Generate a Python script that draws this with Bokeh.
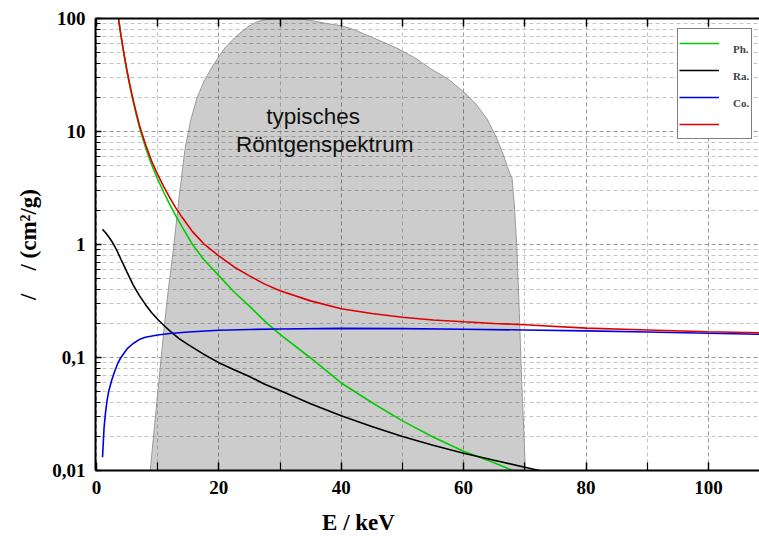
from bokeh.plotting import figure
from bokeh.models import (Range1d, FixedTicker, LinearAxis, Legend, LegendItem,
                          Label)
from bokeh.embed import file_html
from bokeh.resources import INLINE

# ---------------- data ----------------
# typical X-ray spectrum (relative intensity, %)
spec_E = [8.6, 8.8, 9.5, 10.2, 11.0, 11.8, 12.6, 13.5, 14.5, 15.4, 16.4, 17.6, 19.1, 21.0,
          23.0, 24.7, 26.3, 28.0, 30.0, 32.0, 34.0, 36.0, 38.0, 40.0, 42.0, 44.0, 46.5,
          49.0, 52.0, 54.6, 57.5, 60.0, 62.0, 63.8, 65.3, 66.5, 67.5, 67.9, 68.3, 68.7,
          69.1, 69.5, 70.1, 70.3]
spec_I = [0.005, 0.01, 0.025, 0.061, 0.17, 0.42, 0.92, 2.6, 7.1, 12.5, 19.6, 28.0, 38.7,
          55.0, 71.0, 84.0, 94.0, 98.0, 99.5, 99.5, 98.0, 94.0, 89.5, 86.5, 80.0, 72.0,
          63.0, 55.0, 45.0, 36.0, 29.0, 22.5, 17.5, 13.0, 9.0, 6.2, 4.3, 3.9, 2.2, 0.93,
          0.25, 0.06, 0.01, 0.005]

# photo effect
ph_E = [3.4, 3.6, 4.0, 4.5, 5.0, 5.5, 6.0, 6.5, 7.1, 8.0, 9.0, 10.0, 11.0, 12.0, 13.0,
        14.0, 15.7, 17.5, 20.0, 22.5, 25.0, 27.5, 30.0, 35.0, 40.0, 45.0, 50.0, 55.0,
        60.0, 65.0, 68.0, 69.0]
ph_mu = [120.0, 100.0, 71.0, 48.0, 33.8, 24.7, 18.5, 14.2, 10.5, 7.3, 5.1, 3.8, 2.9, 2.25,
         1.78, 1.43, 1.0, 0.74, 0.53, 0.38, 0.285, 0.21, 0.16, 0.099, 0.0595, 0.040,
         0.0275, 0.0198, 0.0148, 0.0117, 0.0100, 0.0096]

# Rayleigh scattering
ra_E = [1.0, 1.5, 2.0, 2.5, 3.0, 3.5, 4.0, 4.5, 5.0, 6.0, 7.0, 8.0, 9.0, 10.0, 11.0, 12.0,
        13.5, 15.0, 17.5, 20.0, 22.5, 25.0, 27.5, 30.0, 35.0, 40.0, 45.0, 50.0, 55.0,
        60.0, 65.0, 70.0, 72.0, 73.0]
ra_mu = [1.36, 1.27, 1.17, 1.07, 0.96, 0.85, 0.74, 0.65, 0.57, 0.44, 0.355, 0.295, 0.25,
         0.218, 0.193, 0.172, 0.147, 0.13, 0.107, 0.090, 0.078, 0.068, 0.058, 0.051,
         0.039, 0.0305, 0.0245, 0.0200, 0.0167, 0.0142, 0.0123, 0.0107, 0.0101, 0.0098]

# Compton scattering
co_E = [1.0, 1.25, 1.5, 1.75, 2.0, 2.5, 3.0, 3.5, 4.0, 5.0, 6.0, 7.0, 8.0, 10.0, 12.0,
        15.0, 20.0, 25.0, 30.0, 40.0, 50.0, 60.0, 70.0, 80.0, 90.0, 100.0, 110.0]
co_mu = [0.0131, 0.024, 0.033, 0.042, 0.050, 0.063, 0.076, 0.089, 0.100, 0.119, 0.133,
         0.144, 0.151, 0.158, 0.163, 0.168, 0.174, 0.177, 0.179, 0.181, 0.180, 0.178,
         0.175, 0.172, 0.168, 0.164, 0.160]

# total
to_E = [3.4, 3.6, 4.0, 4.5, 5.0, 5.5, 6.0, 6.5, 7.1, 8.0, 9.0, 10.0, 11.0, 12.0, 13.0,
        14.0, 15.7, 17.5, 20.0, 22.5, 25.0, 27.5, 30.0, 35.0, 40.0, 45.0, 50.0, 55.0,
        60.0, 65.0, 70.0, 80.0, 90.0, 100.0, 110.0]
to_mu = [121.0, 100.9, 71.8, 48.8, 34.5, 25.3, 19.07, 14.73, 10.99, 7.74, 5.5, 4.17, 3.25,
         2.585, 2.10, 1.74, 1.30, 1.02, 0.794, 0.633, 0.528, 0.446, 0.389, 0.317, 0.270,
         0.245, 0.227, 0.215, 0.207, 0.200, 0.195, 0.182, 0.175, 0.169, 0.165]

x_ticks = [0, 20, 40, 60, 80, 100]
x_minor = [10, 30, 50, 70, 90]
y_ticks = [0.01, 0.1, 1, 10, 100]
y_labels = ["0,01", "0,1", "1", "10", "100"]
legend_labels = ["Ph.", "Ra.", "Co.", "\u00a0"]
spectrum_text = ["typisches", "Röntgenspektrum"]
x_title = "E / keV"
y_title = "/\u2002\u2002/ (cm\u00b2/g)"

# ---------------- figure ----------------
SERIF = "Liberation Serif"
p = figure(width=759, height=540, y_axis_type="log",
           x_range=Range1d(-0.15, 108.35), y_range=Range1d(0.01, 100),
           output_backend="svg", toolbar_location=None,
           min_border_left=95, min_border_right=0, min_border_top=18,
           min_border_bottom=70)
p.outline_line_color = None
p.background_fill_color = "white"

y_minor = [k * 10.0 ** d for d in range(-2, 2) for k in range(2, 10)]
xt = FixedTicker(ticks=x_ticks, minor_ticks=x_minor)
yt = FixedTicker(ticks=y_ticks, minor_ticks=y_minor)

# grids
p.xgrid.ticker = xt
p.ygrid.ticker = yt
for g in (p.xgrid, p.ygrid):
    g.grid_line_color = "#999999"
    g.grid_line_dash = "4 3"
    g.grid_line_width = 1
    g.minor_grid_line_color = "#c4c4c4"
    g.minor_grid_line_dash = "4 3"
    g.minor_grid_line_width = 1

# axes
for ax in (p.xaxis[0], p.yaxis[0]):
    ax.axis_line_width = 2
    ax.axis_line_color = "black"
    ax.major_tick_out = 0
    ax.minor_tick_out = 0
    ax.major_tick_line_width = 1.5
    ax.minor_tick_line_width = 1.2
    ax.major_label_text_font = SERIF
    ax.major_label_text_font_style = "bold"
    ax.major_label_text_font_size = "19px"
    ax.major_label_text_color = "black"
    ax.major_label_standoff = 10
    ax.axis_label_text_font = SERIF
    ax.axis_label_text_font_style = "bold"
    ax.axis_label_text_font_size = "23px"
    ax.axis_label_text_color = "black"

p.xaxis.ticker = xt
p.xaxis.major_tick_in = 8
p.xaxis.minor_tick_in = 8
# trailing em spaces shift the visible title to the left of the frame centre
p.xaxis.axis_label = x_title + "\u2003" * 6
p.xaxis.axis_label_standoff = 13

p.yaxis.ticker = yt
p.yaxis.major_tick_in = 6
p.yaxis.minor_tick_in = 5
p.yaxis.major_label_overrides = {t: l for t, l in zip(y_ticks, y_labels)}
p.yaxis.axis_label = y_title
p.yaxis.axis_label_standoff = 8

top = LinearAxis(ticker=xt, axis_line_width=2, major_tick_in=8, major_tick_out=0,
                 minor_tick_in=8, minor_tick_out=0, major_tick_line_width=1.5,
                 minor_tick_line_width=1.5, major_label_text_color=None,
                 major_label_text_font_size="1px", major_label_standoff=0)
p.add_layout(top, "above")

# ---------------- glyphs ----------------
p.patch(spec_E, spec_I, fill_color="black", fill_alpha=0.2,
        line_color="#9a9a9a", line_width=1)

r_ph = p.line(ph_E, ph_mu, line_color="#00cc00", line_width=1.6)
r_ra = p.line(ra_E, ra_mu, line_color="black", line_width=1.6)
r_co = p.line(co_E, co_mu, line_color="#0000e6", line_width=1.6)
r_to = p.line(to_E, to_mu, line_color="#dd0000", line_width=1.6)

for txt, xv, yv in zip(spectrum_text, [35.4, 37.3], [13.5, 7.7]):
    p.add_layout(Label(x=xv, y=yv, text=txt, text_align="center",
                       text_baseline="alphabetic", text_font="Liberation Sans",
                       text_font_size="22.5px", text_color="#111111"))

legend = Legend(items=[LegendItem(label="\n" + l, renderers=[r]) for l, r in
                       zip(legend_labels, [r_ph, r_ra, r_co, r_to])],
                location=(582, 331), orientation="vertical",
                glyph_width=40, glyph_height=26, label_height=26, label_width=17,
                spacing=1, padding=1, margin=0, label_standoff=14,
                label_text_font=SERIF, label_text_font_style="bold",
                label_text_font_size="11px", label_text_baseline="middle",
                label_text_line_height=1.2,
                border_line_color="black", border_line_width=1.5,
                background_fill_color="white", background_fill_alpha=1.0)
p.add_layout(legend, "center")

open("out.html", "w").write(file_html(p, INLINE))
